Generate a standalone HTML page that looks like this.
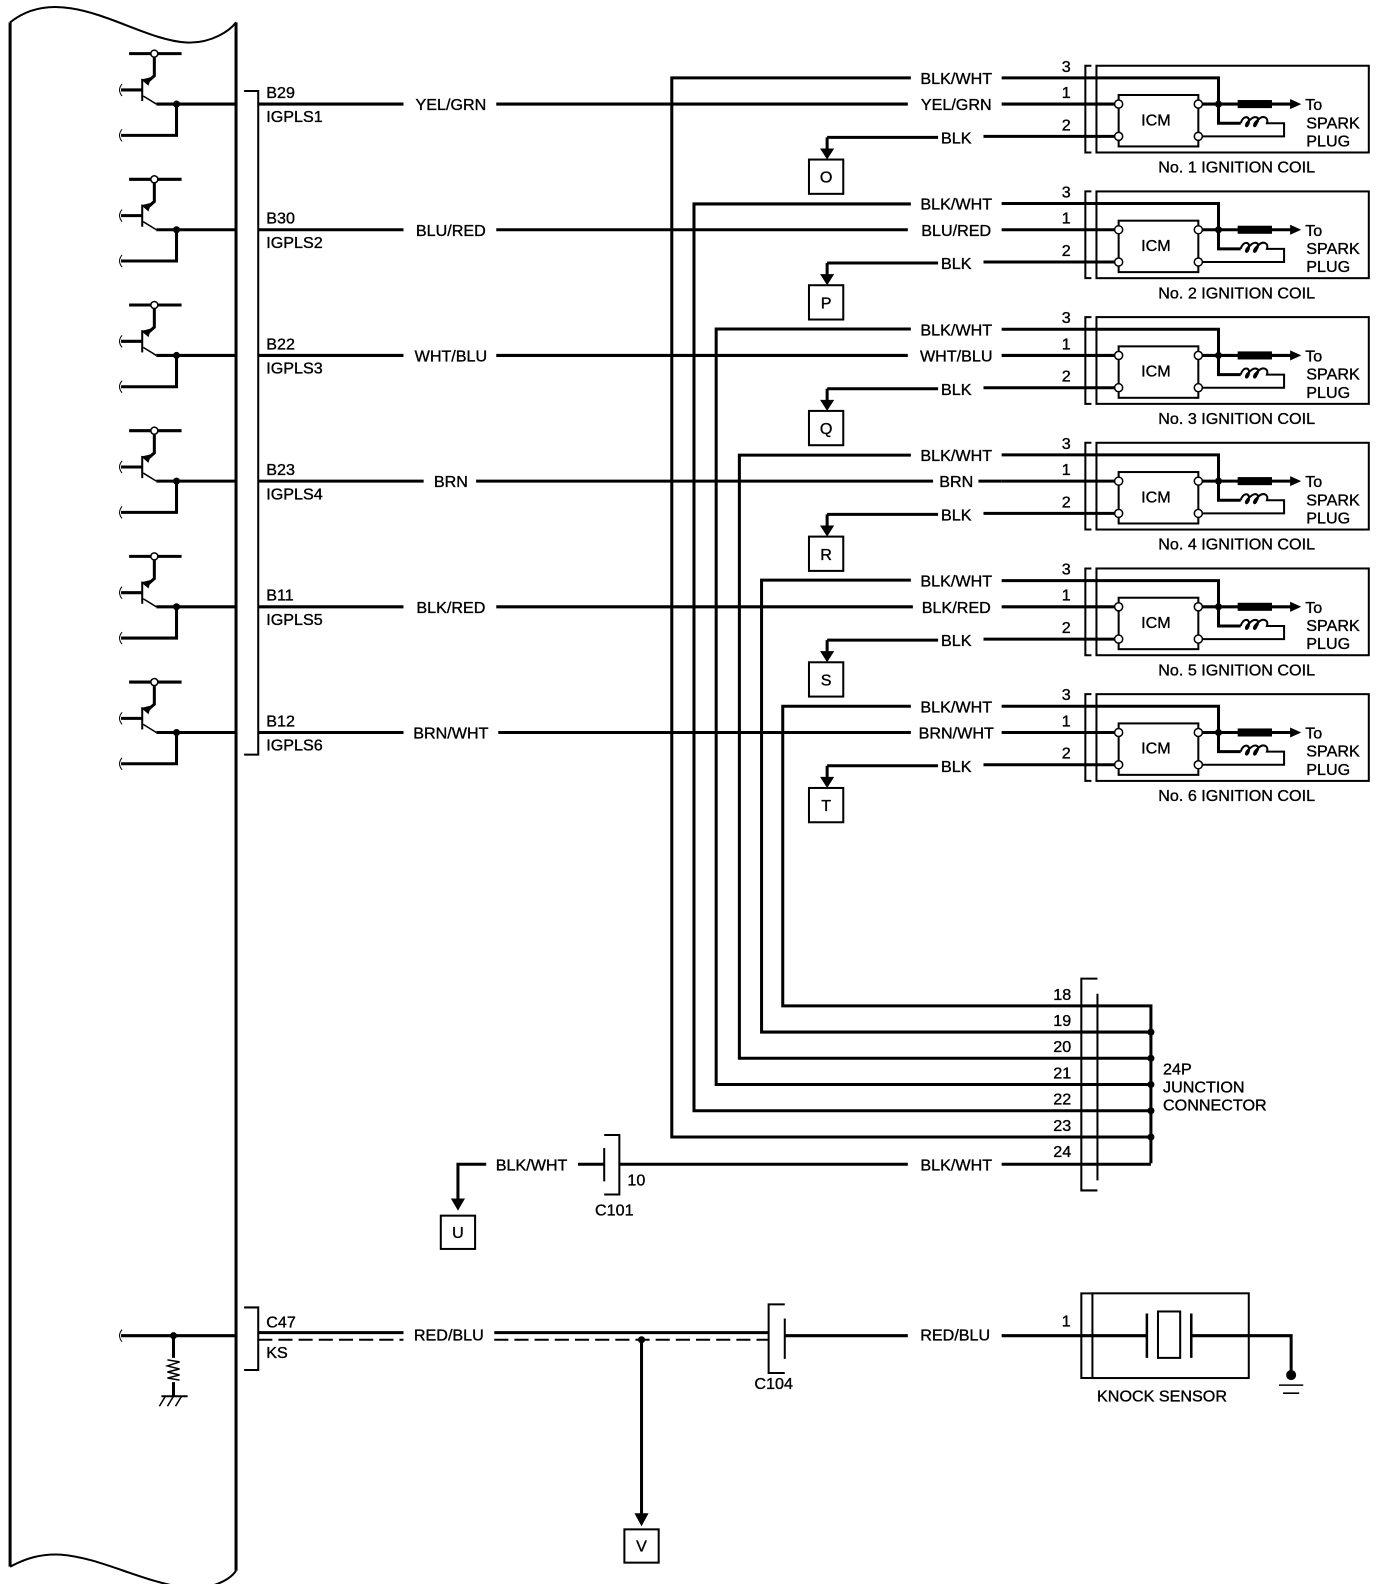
<!DOCTYPE html>
<html><head><meta charset="utf-8"><style>
html,body{margin:0;padding:0;background:#fff;}
svg{display:block;}
text{font-family:"Liberation Sans",sans-serif;font-size:16px;fill:#000;stroke:#000;stroke-width:0.35px;}
</style></head><body>
<svg width="1392" height="1584" viewBox="0 0 1380 1570" xmlns="http://www.w3.org/2000/svg">
<defs>
<g id="trans" fill="none" stroke="#000">
  <path d="M128 53 H180" stroke-width="3"/>
  <circle cx="153" cy="53" r="3.5" fill="#fff" stroke-width="1.5"/>
  <path d="M153 57 V75 L145 82" stroke-width="3"/>
  <path d="M141 79 L147 84 L149 77 Z" fill="#000" stroke-width="1"/>
  <path d="M141 78 V100" stroke-width="2"/>
  <path d="M120 89 H141" stroke-width="3"/>
  <path d="M142 95 L155 103" stroke-width="1.5"/>
  <path d="M155 103 H233" stroke-width="3"/>
  <circle cx="175" cy="103" r="3.5" fill="#000" stroke="none"/>
  <path d="M175 103 V134 H120" stroke-width="3"/>
  <path d="M121 83 Q116 89 121 95" stroke-width="1"/>
  <path d="M121 128 Q116 134 121 140" stroke-width="1"/>
</g>
<g id="coil" fill="none" stroke="#000">
  <path d="M1082 65 H1076 V151 H1082" stroke-width="2"/>
  <rect x="1087" y="65" width="270" height="86" stroke-width="2"/>
  <path d="M993 77 H1208 V122 H1230" stroke-width="3"/>
  <path d="M993 103 H1087" stroke-width="3"/>
  <path d="M975 135 H1087" stroke-width="3"/>
  <path d="M1087 103 H1109 M1087 135 H1109" stroke-width="3"/>
  <rect x="1109" y="94" width="79" height="51" stroke-width="2"/>
  <circle cx="1109" cy="103" r="4" fill="#fff" stroke-width="1.5"/>
  <circle cx="1109" cy="135" r="4" fill="#fff" stroke-width="1.5"/>
  <circle cx="1188" cy="103" r="4" fill="#fff" stroke-width="1.5"/>
  <circle cx="1188" cy="135" r="4" fill="#fff" stroke-width="1.5"/>
  <path d="M1192 103 H1280" stroke-width="3"/>
  <circle cx="1208" cy="103" r="3.5" fill="#000" stroke="none"/>
  <rect x="1227" y="99" width="34" height="8" fill="#000" stroke="none"/>
  <path d="M1279 98 L1290 103 L1279 108 Z" fill="#000" stroke="none"/>
  <path d="M1230 122 C1232 114,1240 114,1238 122 C1236 128,1232 124,1240 118 C1244 114,1250 116,1246 122 C1244 128,1240 124,1248 118 C1252 114,1258 116,1256 122 H1273 V135 H1192" stroke-width="2"/>
</g>
<g id="gbox" fill="none" stroke="#000">
  <path d="M820 136 V150" stroke-width="3"/>
  <path d="M813 147 H827 L820 158 Z" fill="#000" stroke="none"/>
  <rect x="802" y="158" width="34" height="34" stroke-width="2"/>
</g>
</defs>

<g fill="none" stroke="#000" stroke-width="3">
<path d="M10 22 V1553"/>
<path d="M234 22 V1557"/>
<path d="M10 22 C25 10,45 4,70 8 C110 14,150 40,185 42 C210 43,228 30,234 22" stroke-width="2"/>
<path d="M10 1553 C25 1545,40 1540,60 1541 C100 1544,140 1568,185 1574 C210 1576,228 1566,234 1557" stroke-width="2"/>
<path d="M242 90 H256 V748 H242" stroke-width="2"/>
<path d="M242 1296 H256 V1358 H242" stroke-width="2"/>
</g>

<g fill="none" stroke="#000" stroke-width="3">
<path d="M903 77 H666 V1127 H1141"/>
<path d="M903 202 H688 V1101 H1141"/>
<path d="M903 326 H710 V1075 H1141"/>
<path d="M903 451 H733 V1049 H1141"/>
<path d="M903 575 H755 V1023 H1141"/>
<path d="M903 700 H776 V997 H1141 V1153"/>
<path d="M614 1154 H900 M993 1154 H1141"/>
</g>

<g>
<use href="#trans"/><use href="#coil"/><use href="#gbox"/>
<path d="M256 103 H400 M492 103 H900" stroke="#000" stroke-width="3"/>
<text x="264" y="97">B29</text><text x="264" y="121">IGPLS1</text>
<text x="447" y="109" text-anchor="middle">YEL/GRN</text>
<text x="948" y="83" text-anchor="middle">BLK/WHT</text>
<text x="948" y="109" text-anchor="middle">YEL/GRN</text>
<text x="948" y="142" text-anchor="middle">BLK</text>
<path d="M820 136 H930" stroke="#000" stroke-width="3" fill="none"/>
<text x="819" y="181" text-anchor="middle">O</text>
<text x="1057" y="71" text-anchor="middle">3</text><text x="1057" y="97" text-anchor="middle">1</text><text x="1057" y="129" text-anchor="middle">2</text>
<text x="1146" y="124" text-anchor="middle">ICM</text>
<text x="1294" y="109">To</text><text x="1295" y="127">SPARK</text><text x="1295" y="145">PLUG</text>
<text x="1226" y="171" text-anchor="middle">No. 1 IGNITION COIL</text>
</g>
<g transform="translate(0,124.6)">
<use href="#trans"/><use href="#coil"/><use href="#gbox"/>
<path d="M256 103 H400 M492 103 H900" stroke="#000" stroke-width="3"/>
<text x="264" y="97">B30</text><text x="264" y="121">IGPLS2</text>
<text x="447" y="109" text-anchor="middle">BLU/RED</text>
<text x="948" y="83" text-anchor="middle">BLK/WHT</text>
<text x="948" y="109" text-anchor="middle">BLU/RED</text>
<text x="948" y="142" text-anchor="middle">BLK</text>
<path d="M820 136 H930" stroke="#000" stroke-width="3" fill="none"/>
<text x="819" y="181" text-anchor="middle">P</text>
<text x="1057" y="71" text-anchor="middle">3</text><text x="1057" y="97" text-anchor="middle">1</text><text x="1057" y="129" text-anchor="middle">2</text>
<text x="1146" y="124" text-anchor="middle">ICM</text>
<text x="1294" y="109">To</text><text x="1295" y="127">SPARK</text><text x="1295" y="145">PLUG</text>
<text x="1226" y="171" text-anchor="middle">No. 2 IGNITION COIL</text>
</g>
<g transform="translate(0,249.2)">
<use href="#trans"/><use href="#coil"/><use href="#gbox"/>
<path d="M256 103 H400 M492 103 H900" stroke="#000" stroke-width="3"/>
<text x="264" y="97">B22</text><text x="264" y="121">IGPLS3</text>
<text x="447" y="109" text-anchor="middle">WHT/BLU</text>
<text x="948" y="83" text-anchor="middle">BLK/WHT</text>
<text x="948" y="109" text-anchor="middle">WHT/BLU</text>
<text x="948" y="142" text-anchor="middle">BLK</text>
<path d="M820 136 H930" stroke="#000" stroke-width="3" fill="none"/>
<text x="819" y="181" text-anchor="middle">Q</text>
<text x="1057" y="71" text-anchor="middle">3</text><text x="1057" y="97" text-anchor="middle">1</text><text x="1057" y="129" text-anchor="middle">2</text>
<text x="1146" y="124" text-anchor="middle">ICM</text>
<text x="1294" y="109">To</text><text x="1295" y="127">SPARK</text><text x="1295" y="145">PLUG</text>
<text x="1226" y="171" text-anchor="middle">No. 3 IGNITION COIL</text>
</g>
<g transform="translate(0,373.8)">
<use href="#trans"/><use href="#coil"/><use href="#gbox"/>
<path d="M256 103 H420 M472 103 H925" stroke="#000" stroke-width="3"/>
<text x="264" y="97">B23</text><text x="264" y="121">IGPLS4</text>
<text x="447" y="109" text-anchor="middle">BRN</text>
<text x="948" y="83" text-anchor="middle">BLK/WHT</text>
<text x="948" y="109" text-anchor="middle">BRN</text>
<path d="M970 103 H993" stroke="#000" stroke-width="3"/>
<text x="948" y="142" text-anchor="middle">BLK</text>
<path d="M820 136 H930" stroke="#000" stroke-width="3" fill="none"/>
<text x="819" y="181" text-anchor="middle">R</text>
<text x="1057" y="71" text-anchor="middle">3</text><text x="1057" y="97" text-anchor="middle">1</text><text x="1057" y="129" text-anchor="middle">2</text>
<text x="1146" y="124" text-anchor="middle">ICM</text>
<text x="1294" y="109">To</text><text x="1295" y="127">SPARK</text><text x="1295" y="145">PLUG</text>
<text x="1226" y="171" text-anchor="middle">No. 4 IGNITION COIL</text>
</g>
<g transform="translate(0,498.4)">
<use href="#trans"/><use href="#coil"/><use href="#gbox"/>
<path d="M256 103 H400 M492 103 H905" stroke="#000" stroke-width="3"/>
<text x="264" y="97">B11</text><text x="264" y="121">IGPLS5</text>
<text x="447" y="109" text-anchor="middle">BLK/RED</text>
<text x="948" y="83" text-anchor="middle">BLK/WHT</text>
<text x="948" y="109" text-anchor="middle">BLK/RED</text>
<text x="948" y="142" text-anchor="middle">BLK</text>
<path d="M820 136 H930" stroke="#000" stroke-width="3" fill="none"/>
<text x="819" y="181" text-anchor="middle">S</text>
<text x="1057" y="71" text-anchor="middle">3</text><text x="1057" y="97" text-anchor="middle">1</text><text x="1057" y="129" text-anchor="middle">2</text>
<text x="1146" y="124" text-anchor="middle">ICM</text>
<text x="1294" y="109">To</text><text x="1295" y="127">SPARK</text><text x="1295" y="145">PLUG</text>
<text x="1226" y="171" text-anchor="middle">No. 5 IGNITION COIL</text>
</g>
<g transform="translate(0,623)">
<use href="#trans"/><use href="#coil"/><use href="#gbox"/>
<path d="M256 103 H400 M494 103 H903" stroke="#000" stroke-width="3"/>
<text x="264" y="97">B12</text><text x="264" y="121">IGPLS6</text>
<text x="447" y="109" text-anchor="middle">BRN/WHT</text>
<text x="948" y="83" text-anchor="middle">BLK/WHT</text>
<text x="948" y="109" text-anchor="middle">BRN/WHT</text>
<text x="948" y="142" text-anchor="middle">BLK</text>
<path d="M820 136 H930" stroke="#000" stroke-width="3" fill="none"/>
<text x="819" y="181" text-anchor="middle">T</text>
<text x="1057" y="71" text-anchor="middle">3</text><text x="1057" y="97" text-anchor="middle">1</text><text x="1057" y="129" text-anchor="middle">2</text>
<text x="1146" y="124" text-anchor="middle">ICM</text>
<text x="1294" y="109">To</text><text x="1295" y="127">SPARK</text><text x="1295" y="145">PLUG</text>
<text x="1226" y="171" text-anchor="middle">No. 6 IGNITION COIL</text>
</g>

<g fill="none" stroke="#000" stroke-width="2">
<path d="M1088 970 H1072 V1180 H1088"/>
<path d="M1088 985 V1170"/>
</g>
<g fill="#000">
<circle cx="1141" cy="1023" r="3.5"/><circle cx="1141" cy="1049" r="3.5"/><circle cx="1141" cy="1075" r="3.5"/>
<circle cx="1141" cy="1101" r="3.5"/><circle cx="1141" cy="1127" r="3.5"/>
</g>
<g text-anchor="end">
<text x="1062" y="991">18</text><text x="1062" y="1017">19</text><text x="1062" y="1043">20</text>
<text x="1062" y="1069">21</text><text x="1062" y="1095">22</text><text x="1062" y="1121">23</text><text x="1062" y="1147">24</text>
</g>
<text x="1153" y="1065">24P</text><text x="1153" y="1083">JUNCTION</text><text x="1153" y="1101">CONNECTOR</text>
<text x="948" y="1160" text-anchor="middle">BLK/WHT</text>

<g fill="none" stroke="#000">
<path d="M599 1125 H614 V1184 H599" stroke-width="2"/>
<path d="M599 1138 V1171" stroke-width="2"/>
<path d="M573 1154 H599 M482 1154 H454 V1190" stroke-width="3"/>
<path d="M447 1188 H461 L454 1200 Z" fill="#000" stroke="none"/>
<rect x="437" y="1205" width="34" height="33" stroke-width="2"/>
</g>
<text x="527" y="1160" text-anchor="middle">BLK/WHT</text>
<text x="622" y="1175">10</text>
<text x="609" y="1205" text-anchor="middle">C101</text>
<text x="454" y="1227" text-anchor="middle">U</text>

<g fill="none" stroke="#000">
<path d="M120 1324 H234" stroke-width="3"/>
<path d="M121 1318 Q116 1324 121 1330" stroke-width="1"/>
<path d="M172 1324 V1346 M172 1370 V1384" stroke-width="3"/>
<path d="M166 1348 L178 1350 L166 1354 L178 1357 L166 1360 L178 1363 L166 1366 L178 1368" stroke-width="1.5"/>
<path d="M160 1384 H186" stroke-width="2"/>
<path d="M164 1384 L158 1394 M172 1384 L166 1394 M180 1384 L174 1394" stroke-width="1.5"/>
<path d="M256 1321 H400 M490 1321 H762" stroke-width="3"/>
<path d="M256 1328 H400 M490 1328 H762" stroke-width="2" stroke-dasharray="14 6"/>
<path d="M778 1293 H762 V1361 H778" stroke-width="2"/>
<path d="M778 1307 V1347" stroke-width="2"/>
<path d="M778 1324 H900 M993 1324 H1083" stroke-width="3"/>
<path d="M636 1328 V1502" stroke-width="3"/>
<path d="M629 1500 H643 L636 1513 Z" fill="#000" stroke="none"/>
<rect x="619" y="1516" width="34" height="33" stroke-width="2"/>
<path d="M1082 1282 H1072 V1366 H1082" stroke-width="2"/>
<rect x="1083" y="1282" width="155" height="84" stroke-width="2"/>
<path d="M1083 1324 H1137 M1181 1324 H1280 V1360" stroke-width="3"/>
<path d="M1137 1302 V1346 M1181 1302 V1346" stroke-width="2.5"/>
<rect x="1148" y="1300" width="22" height="46" stroke-width="2"/>
<path d="M1268 1373 H1292 M1272 1381 H1288" stroke-width="1.5"/>
</g>
<circle cx="172" cy="1324" r="3.5" fill="#000"/>
<circle cx="636" cy="1328" r="3.5" fill="#000"/>
<circle cx="1280" cy="1363" r="5" fill="#000"/>
<text x="264" y="1316">C47</text><text x="264" y="1346">KS</text>
<text x="445" y="1329" text-anchor="middle">RED/BLU</text>
<text x="947" y="1329" text-anchor="middle">RED/BLU</text>
<text x="767" y="1377" text-anchor="middle">C104</text>
<text x="1057" y="1315" text-anchor="middle">1</text>
<text x="1152" y="1389" text-anchor="middle">KNOCK SENSOR</text>
<text x="636" y="1538" text-anchor="middle">V</text>
</svg>
</body></html>
